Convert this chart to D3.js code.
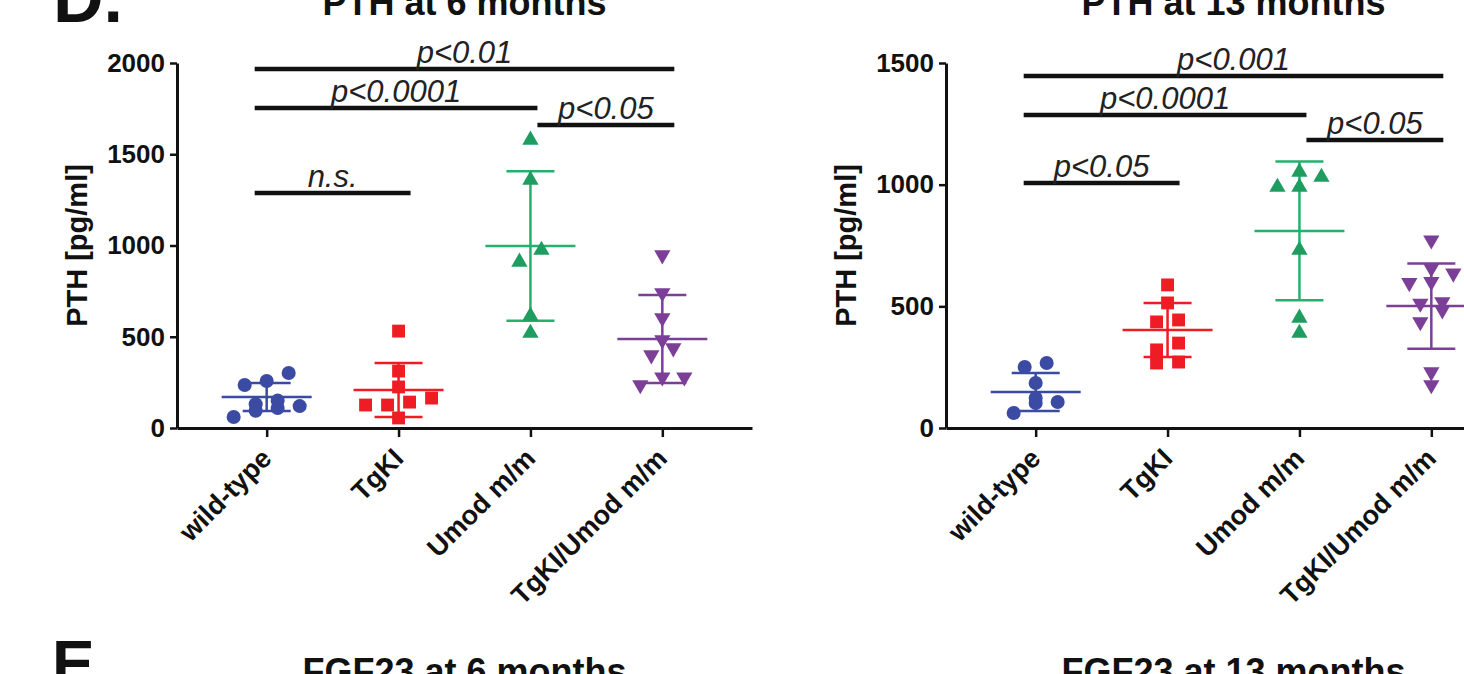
<!DOCTYPE html>
<html>
<head>
<meta charset="utf-8">
<script src="https://cdn.jsdelivr.net/npm/d3@7"></script>
<style>
  body { margin: 0; background: #fff; }
  text { font-family: "Liberation Sans", Arial, sans-serif; }
</style>
</head>
<body>
<div id="chart"></div>
<script>
const groups = ["wild-type", "TgKI", "Umod m/m", "TgKI/Umod m/m"];
const pointColors = ["#3b4aa3", "#ee1c24", "#1f9c5f", "#7c3f98"];
const barColors = ["#3b4aa3", "#ee1c24", "#26b06e", "#7c3f98"];

// PTH at 6 months (pg/ml)
const pth6WildType = [301, 258, 236, 150, 130, 120, 110, 95, 60];
const pth6TgKI = [531, 312, 225, 164, 142, 126, 126, 55];
const pth6Umod = [1578, 1359, 975, 910, 614, 520];
const pth6TgKIUmod = [948, 740, 603, 482, 438, 400, 279, 279, 236];
const pth6Mean = [170, 208, 997, 488];
const pth6SD = [77, 148, 410, 241];
const pth6Ticks = [0, 500, 1000, 1500, 2000];
const pth6SigLabels = ["p<0.01", "p<0.0001", "p<0.05", "n.s."];
const pth6SigFrom = [0, 0, 2, 0];
const pth6SigTo = [3, 2, 3, 1];
const pth6SigLevel = [1967, 1753, 1660, 1288];

// PTH at 13 months (pg/ml)
const pth13WildType = [267, 251, 185, 123, 107, 103, 62];
const pth13TgKI = [588, 514, 444, 436, 349, 321, 271, 267];
const pth13Umod = [1052, 1031, 990, 990, 731, 452, 390];
const pth13TgKIUmod = [772, 657, 636, 601, 597, 518, 512, 485, 436, 230, 177];
const pth13Mean = [148, 403, 810, 501];
const pth13SD = [78, 111, 285, 175];
const pth13Ticks = [0, 500, 1000, 1500];
const pth13SigLabels = ["p<0.001", "p<0.0001", "p<0.05", "p<0.05"];
const pth13SigFrom = [0, 0, 2, 0];
const pth13SigTo = [3, 2, 3, 1];
const pth13SigLevel = [1447, 1286, 1184, 1007];

const W = 1464, H = 674;
const svg = d3.select('#chart').append('svg')
  .attr('width', W).attr('height', H)
  .style('display', 'block');

const plotTop = 63, plotBottom = 428, plotWidth = 575;

// spread points sideways like a scatter dot plot: points whose y is close share a row
function swarm(values, y, step) {
  const pts = values.map(v => ({ v, py: y(v) })).sort((a, b) => b.py - a.py);
  const rows = [];
  let row = null;
  pts.forEach(p => {
    if (!row || Math.abs(p.py - row[0].py) > 12) { row = [p]; rows.push(row); }
    else row.push(p);
  });
  rows.forEach(r => r.forEach((p, i) => { p.dx = (i - (r.length - 1) / 2) * step; }));
  return pts;
}

function symbolFor(i) {
  if (i === 0) return d3.symbol(d3.symbolCircle, 155)();
  if (i === 1) return d3.symbol(d3.symbolSquare, 165)();
  return d3.symbol(d3.symbolTriangle, 115)();
}

function panel(opt) {
  const g = svg.append('g');
  const left = opt.left;

  const y = d3.scaleLinear().domain([0, opt.max]).range([plotBottom, plotTop]);
  const x = d3.scalePoint().domain(groups).range([left, left + plotWidth]).padding(0.68);

  // y axis
  const ya = g.append('g')
    .attr('transform', `translate(${left},0)`)
    .call(d3.axisLeft(y).tickValues(opt.ticks).tickSize(7).tickSizeOuter(0).tickPadding(5).tickFormat(d3.format('d')));
  ya.select('.domain').attr('stroke', '#111').attr('stroke-width', 3);
  ya.selectAll('.tick line').attr('stroke', '#111').attr('stroke-width', 2.5);
  ya.selectAll('.tick text')
    .attr('fill', '#111')
    .style('font-size', '26px')
    .style('font-weight', 'bold');

  // x axis
  const xa = g.append('g')
    .attr('transform', `translate(0,${plotBottom})`)
    .call(d3.axisBottom(x).tickSize(9).tickSizeOuter(0));
  xa.select('.domain').attr('stroke', '#111').attr('stroke-width', 3);
  xa.selectAll('.tick line').attr('stroke', '#111').attr('stroke-width', 2.5);
  xa.selectAll('.tick text')
    .attr('fill', '#111')
    .style('font-size', '27px')
    .style('font-weight', 'bold')
    .attr('text-anchor', 'end')
    .attr('dy', null)
    .attr('y', null)
    .attr('transform', 'translate(6,32) rotate(-45)');

  // axis title
  g.append('text')
    .attr('transform', `translate(${left - 90},${(plotTop + plotBottom) / 2}) rotate(-90)`)
    .attr('text-anchor', 'middle')
    .style('font-size', '29px')
    .style('font-weight', 'bold')
    .attr('fill', '#111')
    .text('PTH [pg/ml]');

  // panel title
  g.append('text')
    .attr('x', left + plotWidth / 2)
    .attr('y', 15)
    .attr('text-anchor', 'middle')
    .style('font-size', '36px')
    .style('font-weight', 'bold')
    .attr('fill', '#111')
    .text(opt.title);

  // mean +/- SD
  groups.forEach((grp, i) => {
    const cx = x(grp);
    const m = opt.mean[i], s = opt.sd[i];
    const bg = g.append('g').attr('stroke', barColors[i]).attr('stroke-width', 2.5);
    bg.append('line').attr('x1', cx).attr('x2', cx).attr('y1', y(m + s)).attr('y2', y(m - s));
    bg.append('line').attr('x1', cx - 45).attr('x2', cx + 45).attr('y1', y(m)).attr('y2', y(m));
    bg.append('line').attr('x1', cx - 24).attr('x2', cx + 24).attr('y1', y(m + s)).attr('y2', y(m + s));
    bg.append('line').attr('x1', cx - 24).attr('x2', cx + 24).attr('y1', y(m - s)).attr('y2', y(m - s));
  });

  // points
  opt.series.forEach((vals, i) => {
    const cx = x(groups[i]);
    const pts = swarm(vals, y, 22);
    g.selectAll(null)
      .data(pts)
      .enter()
      .append('path')
      .attr('d', symbolFor(i))
      .attr('fill', pointColors[i])
      .attr('transform', d => `translate(${cx + d.dx},${d.py})` + (i === 3 ? ' rotate(180)' : ''));
  });

  // significance bars; two bars that meet at one group share a joint just right of it
  const joints = opt.sigFrom.filter(f => opt.sigTo.includes(f));
  opt.sigLabels.forEach((lab, k) => {
    const f = opt.sigFrom[k], t = opt.sigTo[k];
    const x1 = x(groups[f]) + (joints.includes(f) ? 7 : -12);
    const x2 = x(groups[t]) + (joints.includes(t) ? 7 : 12);
    const yy = y(opt.sigLevel[k]);
    g.append('line')
      .attr('x1', x1).attr('x2', x2).attr('y1', yy).attr('y2', yy)
      .attr('stroke', '#111').attr('stroke-width', 4.5);
    g.append('text')
      .attr('x', (x1 + x2) / 2)
      .attr('y', yy - 6)
      .attr('text-anchor', 'middle')
      .style('font-size', '31px')
      .style('font-style', 'italic')
      .attr('fill', '#222')
      .text(lab);
  });
}

panel({
  left: 177, max: 2000, ticks: pth6Ticks, title: 'PTH at 6 months',
  series: [pth6WildType, pth6TgKI, pth6Umod, pth6TgKIUmod],
  mean: pth6Mean, sd: pth6SD,
  sigLabels: pth6SigLabels, sigFrom: pth6SigFrom, sigTo: pth6SigTo, sigLevel: pth6SigLevel
});

panel({
  left: 946, max: 1500, ticks: pth13Ticks, title: 'PTH at 13 months',
  series: [pth13WildType, pth13TgKI, pth13Umod, pth13TgKIUmod],
  mean: pth13Mean, sd: pth13SD,
  sigLabels: pth13SigLabels, sigFrom: pth13SigFrom, sigTo: pth13SigTo, sigLevel: pth13SigLevel
});

// panel letters and next row titles (cut off at the bottom edge)
svg.append('text').attr('x', 53).attr('y', 22)
  .style('font-size', '70px').style('font-weight', 'bold').attr('fill', '#111').text('D.');
svg.append('text').attr('x', 52).attr('y', 686)
  .style('font-size', '64px').style('font-weight', 'bold').attr('fill', '#111').text('E');
svg.append('text').attr('x', 177 + plotWidth / 2).attr('y', 684).attr('text-anchor', 'middle')
  .style('font-size', '36px').style('font-weight', 'bold').attr('fill', '#111').text('FGF23 at 6 months');
svg.append('text').attr('x', 946 + plotWidth / 2).attr('y', 684).attr('text-anchor', 'middle')
  .style('font-size', '36px').style('font-weight', 'bold').attr('fill', '#111').text('FGF23 at 13 months');
</script>
</body>
</html>
